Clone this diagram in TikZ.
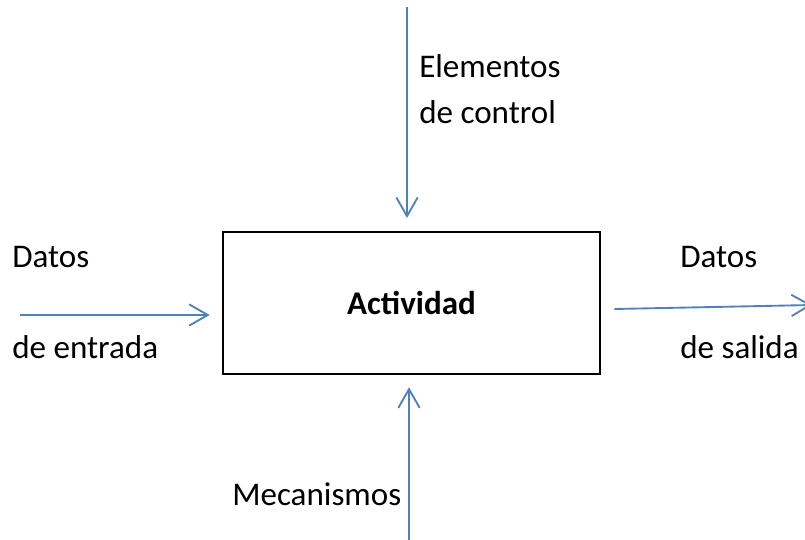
\documentclass[tikz,border=0pt]{standalone}
\usepackage{fontspec}
\setmainfont{Carlito}
\usepackage{tikz}
\usetikzlibrary{arrows.meta, positioning, calc}
\definecolor{flowblue}{HTML}{4F81BD}
\tikzset{
  flow/.style={draw=flowblue, line width=1.4pt, -{Straight Barb[length=14pt, width=16pt, line width=1.4pt]}},
  lbl/.style={anchor=base west, inner sep=0pt, font=\fontsize{24.8}{30}\selectfont},
  actbox/.style={draw=black, line width=2pt, minimum width=282.75pt, minimum height=106.5pt, font=\fontsize{24.8}{30}\selectfont\bfseries}
}

\begin{document}
\begin{tikzpicture}[x=0.75pt, y=-0.75pt]
                    \useasboundingbox (0,0) rectangle (805,539);
                    \node[actbox] (actividad) at (411.5,303) {Actividad};
                    % entrada
                    \node[lbl] (datosin) at (12,267) {Datos};
                    \node[lbl] (entrada) at (12,358) {de entrada};
                    \coordinate (in) at (20,315);
                    \draw[flow, shorten >=9pt] (in) -- (in -| actividad.west);
                    % salida
                    \node[lbl] (datosout) at (680,267) {Datos};
                    \node[lbl] (salida) at (680,358) {de salida};
                    \coordinate (out) at (812,305);
                    \draw[flow] ($(actividad.east)+(13,6)$) -- (out);
                    % control
                    \node[lbl] (elem) at (419,77) {Elementos};
                    \node[lbl] (control) at (419,123) {de control};
                    \coordinate (ctrl) at (407,7);
                    \draw[flow, shorten >=9.5pt] (ctrl) -- (ctrl |- actividad.north);
                    % mecanismos
                    \node[lbl] (mec) at (232,505) {Mecanismos};
                    \coordinate (mech) at (409,540);
                    \draw[flow, shorten >=9pt] (mech) -- (mech |- actividad.south);
                  \end{tikzpicture}
\end{document}
